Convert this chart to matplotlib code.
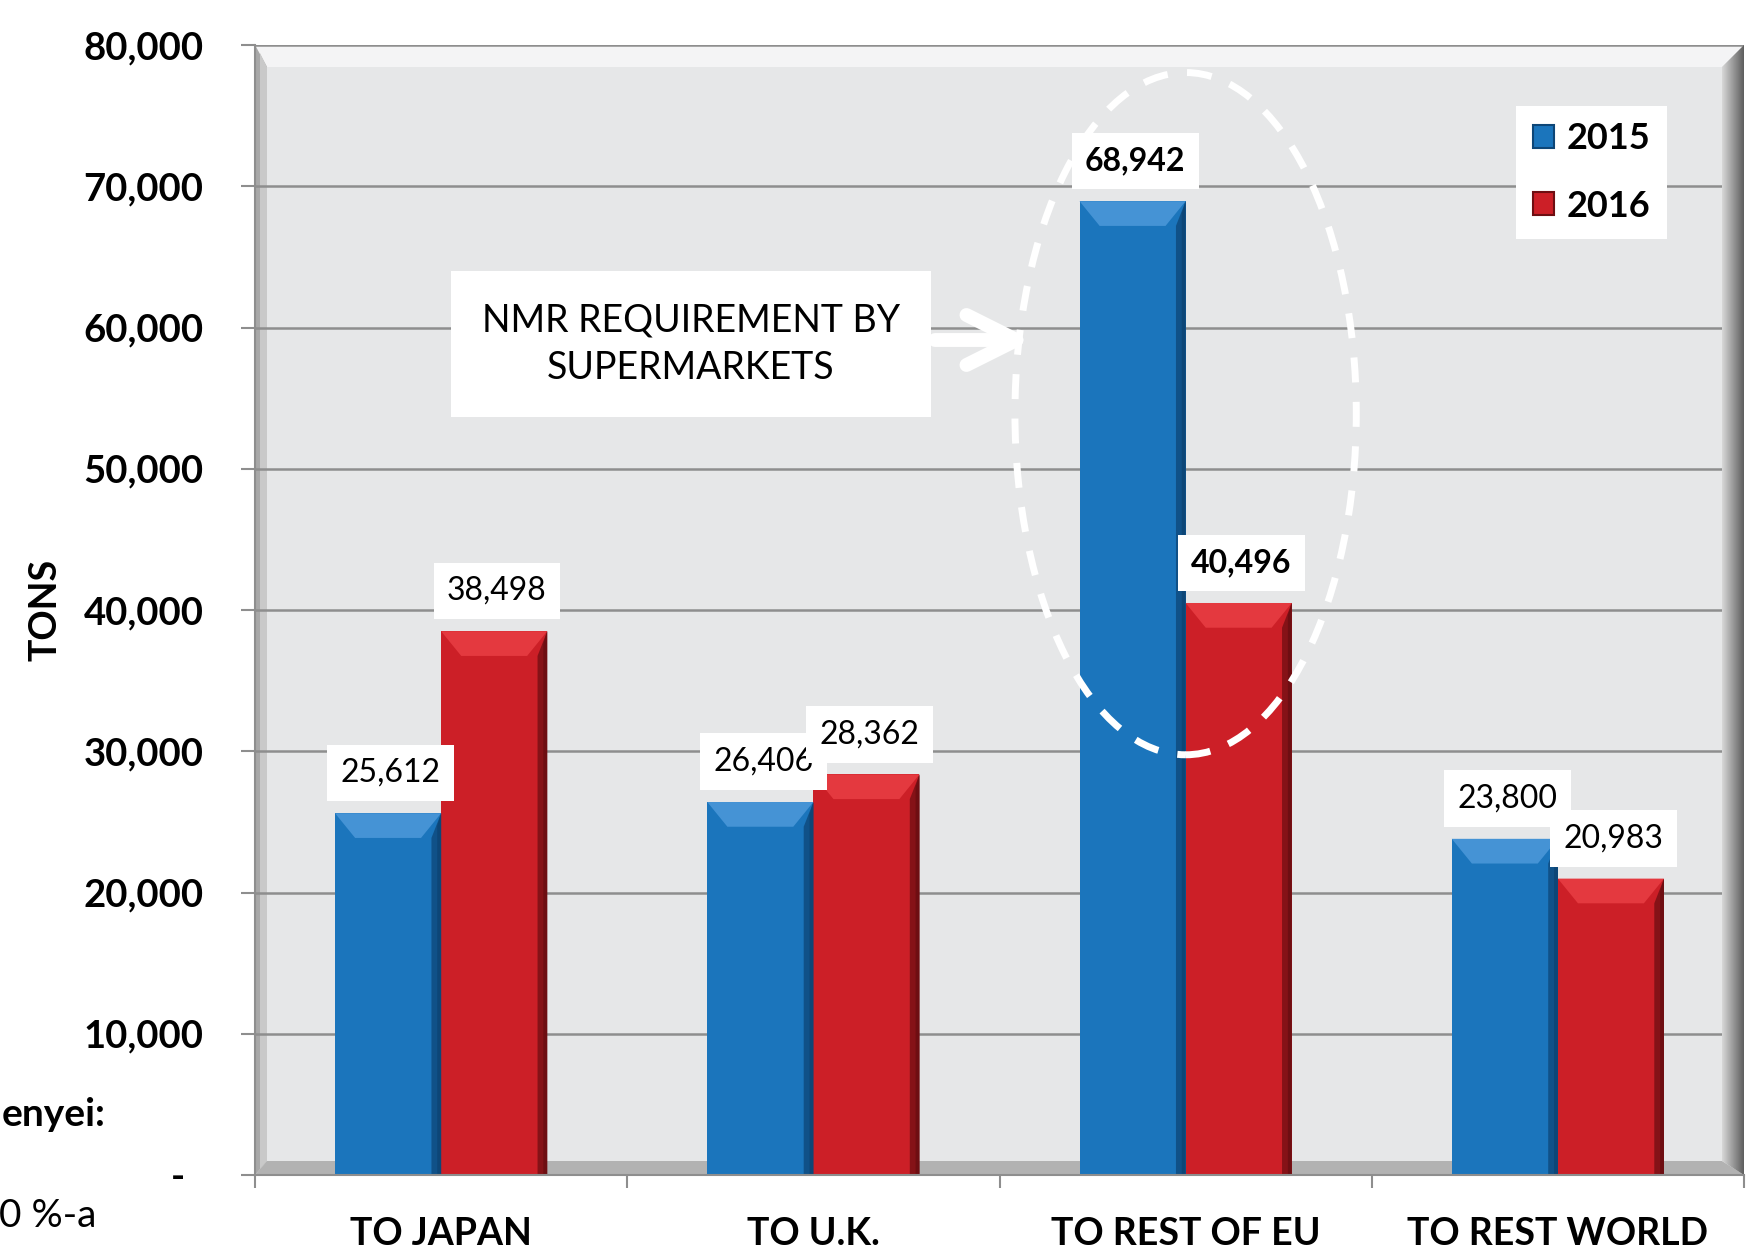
import numpy as np
import matplotlib.pyplot as plt
from matplotlib.patches import Polygon, Ellipse, Patch
from matplotlib.ticker import FuncFormatter

plt.rcParams['font.family'] = ['Lato', 'DejaVu Sans']

# data
categories = ['TO JAPAN', 'TO U.K.', 'TO REST OF EU', 'TO REST WORLD']
years = ['2015', '2016']
tons_2015 = [25612, 26406, 68942, 23800]
tons_2016 = [38498, 28362, 40496, 20983]
y_ticks = [0, 10000, 20000, 30000, 40000, 50000, 60000, 70000, 80000]
highlight = 'TO REST OF EU'
note_text = 'NMR REQUIREMENT BY\nSUPERMARKETS'

blue, blue_light, blue_dark = '#1B75BC', '#4593D5', '#0D4677'
red, red_light, red_dark = '#CC1F27', '#E4393F', '#6E0E12'
grid_c = '#8E8E8E'

fig = plt.figure(figsize=(17.55, 12.51), dpi=100)
ax = fig.add_axes([255 / 1755, 76 / 1251, 1489 / 1755, 1130 / 1251])
ax.set_facecolor('#E6E7E8')

AW, AH = 1489.0, 1130.0   # axes size in px


def fx(px):
    return px / AW


def fy(px):
    return px / AH


# excel-like 3d wall: top bevel, floor, left and right walls
ax.add_patch(Polygon([(0, 1), (1, 1), (1 - fx(22), 1 - fy(22)), (fx(12), 1 - fy(22))],
                     transform=ax.transAxes, fc='#F4F4F5', ec='none', zorder=0.6))
ax.add_patch(Polygon([(0, 0), (1, 0), (1 - fx(22), fy(14)), (fx(12), fy(14))],
                     transform=ax.transAxes, fc='#B2B2B2', ec='none', zorder=0.6))
ax.add_patch(Polygon([(0, 0), (fx(12), fy(14)), (fx(12), 1 - fy(22)), (0, 1)],
                     transform=ax.transAxes, fc='#A8A8A8', ec='none', zorder=0.7))
ax.add_patch(Polygon([(fx(5), fy(6)), (fx(12), fy(14)), (fx(12), 1 - fy(22)), (fx(5), 1 - fy(8))],
                     transform=ax.transAxes, fc='#C9C9C9', ec='none', zorder=0.7))
rw = Polygon([(1, 1), (1 - fx(22), 1 - fy(22)), (1 - fx(22), fy(14)), (1, 0)],
             transform=ax.transAxes, fc='none', ec='none')
ax.add_patch(rw)
grad = np.linspace(0, 1, 64).reshape(1, -1)
im = ax.imshow(grad, extent=[1 - fx(22), 1, 0, 1], transform=ax.transAxes,
               cmap=plt.matplotlib.colors.LinearSegmentedColormap.from_list('w', ['#D8D8D8', '#9A9A9A', '#5E5E5E']),
               aspect='auto', zorder=1.6)
im.set_clip_path(rw)

x = np.arange(len(categories))
w = 0.285
bx, by = 0.054, 1750      # bevel inset
sx = 0.026                # right shade width

series = [(tons_2015, -w / 2, blue, blue_light, blue_dark, 5),
          (tons_2016, w / 2, red, red_light, red_dark, 6)]

for vals, off, c, cl, cd, zl in series:
    bars = ax.bar(x + off, vals, w, color=c, zorder=2)
    for b in bars:
        x0 = b.get_x()
        x1 = x0 + b.get_width()
        top = b.get_height()
        ax.add_patch(Polygon([(x1 - sx, top - by), (x1, top), (x1, 0), (x1 - sx, 0)],
                             fc=cd, ec='none', alpha=0.75, zorder=2.05))
        ax.add_patch(Polygon([(x1 - sx * 0.4, top - by * 0.5), (x1, top), (x1, 0), (x1 - sx * 0.4, 0)],
                             fc=cd, ec='none', zorder=2.06))
        ax.add_patch(Polygon([(x0, top), (x1, top), (x1 - bx, top - by), (x0 + bx, top - by)],
                             fc=cl, ec='none', zorder=2.1))

for vals, off, c, cl, cd, zl in series:
    for xi, v, cat in zip(x, vals, categories):
        ax.annotate(f'{v:,}', (xi + off, v), xytext=(2, 29), textcoords='offset points',
                    ha='center', va='center', fontsize=23,
                    fontweight='bold' if cat == highlight else 'normal',
                    bbox=dict(boxstyle='square,pad=0.42', fc='white', ec='none'), zorder=zl)

ax.set_xlim(-0.5, 3.5)
ax.set_ylim(0, 80000)

# axes, ticks, grid
ax.set_axisbelow('line')
ax.yaxis.grid(True, color=grid_c, lw=1.8)
ax.set_yticks(y_ticks)
ax.yaxis.set_major_formatter(FuncFormatter(lambda v, p: f'{v:,.0f}' if v else '-  '))
ax.tick_params(axis='y', length=10, width=1.5, color=grid_c, pad=27, labelsize=27.5)
plt.setp(ax.get_yticklabels(), fontweight='bold')

ax.set_xticks(x)
ax.set_xticklabels(categories, fontsize=27, fontweight='bold')
ax.set_xticks(np.arange(len(categories) + 1) - 0.5, minor=True)
ax.tick_params(axis='x', which='major', length=0, pad=30)
ax.tick_params(axis='x', which='minor', length=9.5, width=1.5, color=grid_c)

for s in ['top', 'right']:
    ax.spines[s].set_visible(False)
for s in ['left', 'bottom']:
    ax.spines[s].set_color(grid_c)
    ax.spines[s].set_linewidth(1.5)

ax.set_ylabel('TONS', fontsize=27, fontweight='bold')
ax.yaxis.set_label_coords(fx(62 - 255), 0.5)

# legend
handles = [Patch(fc=blue, ec=blue_dark, lw=1.5), Patch(fc=red, ec=red_dark, lw=1.5)]
ax.legend(handles, years, loc='upper right', bbox_to_anchor=(fx(1667 - 255), fy(1175 - 106)),
          frameon=True, fancybox=False, edgecolor='none', facecolor='white', framealpha=1,
          prop=dict(weight='bold', size=26), handlelength=0.6, handleheight=0.6,
          handletextpad=0.35, borderpad=0.45, labelspacing=0.95, borderaxespad=0)

# call-out box, arrow and dashed ellipse round the EU bars
ax.text(fx(691 - 255), fy(1175 - 344), note_text, transform=ax.transAxes, ha='center', va='center',
        fontsize=27, linespacing=1.4,
        bbox=dict(boxstyle='square,pad=0.82', fc='white', ec='none'), zorder=6)
ax.annotate('', xy=(fx(1032 - 255), fy(1175 - 340)), xytext=(fx(935 - 255), fy(1175 - 340)),
            xycoords='axes fraction',
            arrowprops=dict(arrowstyle='->,head_length=0.6,head_width=0.3', lw=10, color='white',
                            mutation_scale=60, shrinkA=0, shrinkB=0, capstyle='round',
                            joinstyle='round'), zorder=6)
eu = categories.index(highlight)
ax.add_patch(Ellipse((x[eu], 53900), 0.917, 48300, fill=False, ec='white', lw=5,
                     ls=(0, (3.6, 2.8)), zorder=4))

# cropped text from the surrounding page
fig.text(106 / 1755, 1 - 1115 / 1251, 'enyei:', ha='right', va='center', fontsize=28, fontweight='bold')
fig.text(96 / 1755, 1 - 1216 / 1251, '0 %-a', ha='right', va='center', fontsize=28)

fig.savefig('out.png', dpi=100)
